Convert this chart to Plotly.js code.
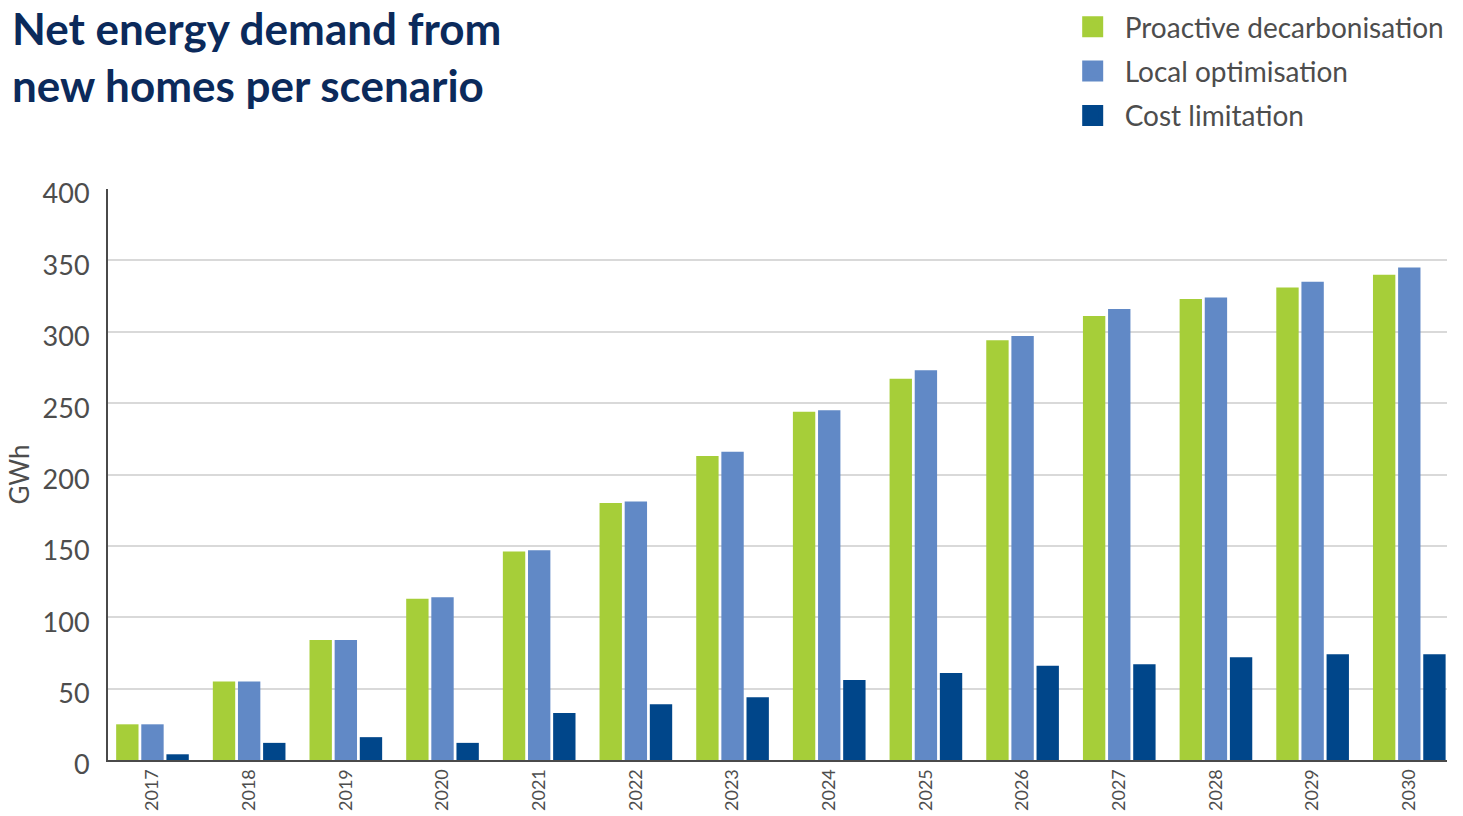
<!DOCTYPE html>
<html>
<head>
<meta charset="utf-8">
<script src="https://cdn.plot.ly/plotly-3.0.1.min.js"></script>
<style>html,body{margin:0;padding:0;background:#fff;}#chart{width:1463px;height:816px;}</style>
</head>
<body>
<div id="chart"></div>
<script>
const years = ["2017","2018","2019","2020","2021","2022","2023","2024","2025","2026","2027","2028","2029","2030"];
const seriesNames = ["Proactive decarbonisation","Local optimisation","Cost limitation"];
const proactive = [25, 55, 84, 113, 146, 180, 213, 244, 267, 294, 311, 323, 331, 340];
const local     = [25, 55, 84, 114, 147, 181, 216, 245, 273, 297, 316, 324, 335, 345];
const costLim   = [4, 12, 16, 12, 33, 39, 44, 56, 61, 66, 67, 72, 74, 74];
const colors = ["#a6ce39", "#6189c6", "#00468a"];

const vals = [proactive, local, costLim];
const traces = [];
vals.forEach((v, i) => {
  traces.push({
    type: "bar", x: years, y: v, name: seriesNames[i],
    marker: {color: colors[i]}, showlegend: false, hoverinfo: "x+y"
  });
});
vals.forEach((v, i) => {
  traces.push({
    type: "scatter", mode: "markers", x: [null], y: [null], name: seriesNames[i],
    marker: {symbol: "square", size: 16, color: colors[i], line: {color: colors[i], width: 5}},
    legendgroup: "g" + i, showlegend: true, hoverinfo: "skip"
  });
});

const layout = {
  width: 1463, height: 816,
  margin: {l: 108, r: 16, t: 189, b: 56},
  paper_bgcolor: "#fff", plot_bgcolor: "#fff",
  font: {family: "Lato, 'Open Sans', sans-serif", color: "#4d4d4d"},
  title: {
    text: "<b>Net energy demand from<br>new homes per scenario</b>",
    font: {family: "Lato, sans-serif", size: 44, color: "#0b2a5b"},
    x: 12/1463, xref: "container", xanchor: "left",
    y: 1 - 45/816, yref: "container", yanchor: "top"
  },
  barmode: "group", bargap: 0.22, bargroupgap: 0.11,
  xaxis: {
    type: "category", range: [-0.46, 13.39],
    tickangle: -90, tickfont: {size: 18, color: "#4d4d4d"},
    showline: true, linecolor: "#4a4a4a", linewidth: 2,
    showgrid: false, ticks: "", fixedrange: true
  },
  yaxis: {
    range: [0, 400], dtick: 50, tick0: 0,
    tickfont: {size: 27, color: "#4d4d4d"},
    showline: true, linecolor: "#4a4a4a", linewidth: 2,
    showgrid: true, gridcolor: "#d9d9d9", gridwidth: 2,
    zeroline: false, ticks: "", ticklabelstandoff: 11, ticklabelshift: 5,
    title: {text: "GWh", font: {size: 26, color: "#4d4d4d"}, standoff: 6},
    fixedrange: true
  },
  legend: {
    x: 0.7115, xanchor: "left", xref: "paper",
    y: 1 - 2/816, yref: "container", yanchor: "top",
    orientation: "v", font: {size: 28, color: "#4d4d4d"},
    itemwidth: 54, traceorder: "grouped", tracegroupgap: 5,
    bgcolor: "rgba(0,0,0,0)", itemclick: false, itemdoubleclick: false
  },
  showlegend: true
};

Plotly.newPlot("chart", traces, layout, {displayModeBar: false, staticPlot: true});
</script>
</body>
</html>
